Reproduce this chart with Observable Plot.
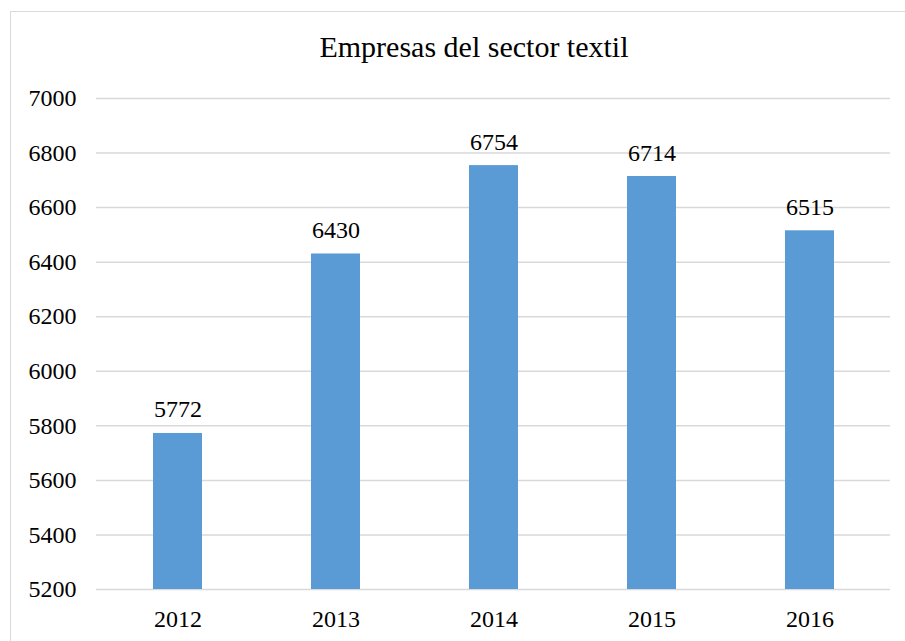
<!DOCTYPE html>
<html>
<head>
<meta charset="utf-8">
<script src="https://cdn.jsdelivr.net/npm/d3@7"></script>
<script src="https://cdn.jsdelivr.net/npm/@observablehq/plot@0.6"></script>
<style>
  html, body { margin: 0; padding: 0; background: #fff; }
  body { width: 905px; height: 641px; overflow: hidden; position: relative; font-family: "Liberation Serif", "DejaVu Serif", serif; }
  #frame { position: absolute; left: 10px; top: 11px; width: 1000px; height: 1000px; border: 1.5px solid #d9d9d9; box-sizing: border-box; }
  #title { position: absolute; left: 0; top: 30px; width: 948px; text-align: center; font-size: 30px; line-height: normal; color: #000; font-family: "Liberation Serif", serif; white-space: nowrap; }
  #chart { position: absolute; left: 0; top: 70px; }
</style>
</head>
<body>
<div id="frame"></div>
<div id="title">Empresas del sector textil</div>
<div id="chart"></div>
<script>
const years = ["2012", "2013", "2014", "2015", "2016"];
const values = [5772, 6430, 6754, 6714, 6515];
const yTicks = [5200, 5400, 5600, 5800, 6000, 6200, 6400, 6600, 6800, 7000];

const data = years.map((y, i) => ({year: y, value: values[i]}));
const serif = "Liberation Serif";

const chart = Plot.plot({
  width: 905,
  height: 571,
  marginTop: 28,
  marginBottom: 52,
  marginLeft: 96,
  marginRight: 15,
  style: {fontFamily: serif, fontSize: "24px", color: "#000", background: "transparent"},
  x: {domain: years, paddingInner: 0.69, paddingOuter: 0.345, label: null},
  y: {domain: [5200, 7000], label: null},
  marks: [
    Plot.gridY(yTicks, {stroke: "#d9d9d9", strokeOpacity: 1, strokeWidth: 1.5}),
    Plot.barY(data, {x: "year", y1: 5200, y2: "value", fill: "#5b9bd5"}),
    Plot.text(data, {x: "year", y: "value", text: d => String(d.value), lineAnchor: "bottom", dy: -16, fontSize: 24, fontFamily: serif, fill: "#000"}),
    Plot.axisX({tickSize: 0, tickPadding: 20, fontSize: 24, fontFamily: serif, fill: "#000", label: null}),
    Plot.axisY({ticks: yTicks, tickSize: 0, tickPadding: 20, fontSize: 24, fontFamily: serif, fill: "#000", label: null, tickFormat: d => String(d)})
  ]
});
document.getElementById("chart").appendChild(chart);
</script>
</body>
</html>
